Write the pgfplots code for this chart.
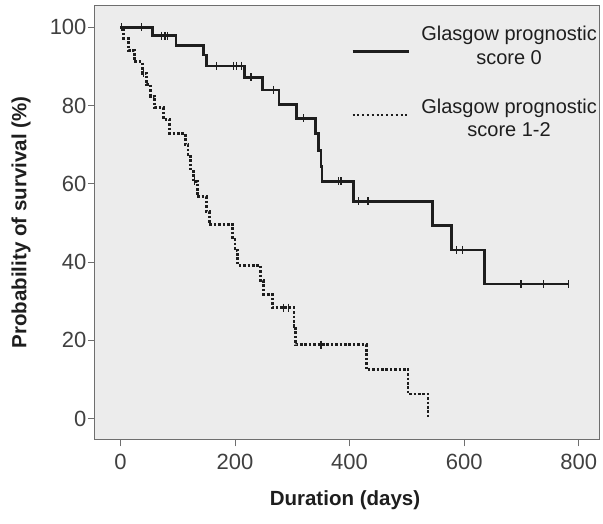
\documentclass[border=0pt]{standalone}
\usepackage{fontspec}
\setmainfont{Liberation Sans}
\usepackage{pgfplots}
\pgfplotsset{compat=1.18}
\definecolor{panel}{HTML}{ECECEC}
\definecolor{frame}{HTML}{6E6E6E}
\definecolor{ink}{HTML}{1E1E1E}
\begin{document}
\begin{tikzpicture}
\useasboundingbox (-95pt,-83.7pt) rectangle (508pt,439.3pt);
\begin{axis}[
  scale only axis, width=505pt, height=433.6pt,
  xmin=-44.3, xmax=837, ymin=-5.26, ymax=105.5,
  xtick={0,200,...,800}, ytick={0,20,...,100},
  tick align=outside, major tick length=7pt,
  xtick pos=bottom, ytick pos=left,
  axis line style={frame, line width=1pt},
  tick style={frame, line width=0.8pt},
  axis background/.style={fill=panel},
  ticklabel style={font=\fontsize{22}{26}\selectfont, text=ink!85},
  xticklabel style={yshift=-4pt},
  yticklabel style={xshift=2pt},
  /pgf/number format/assume math mode=true,
  xlabel={Duration (days)}, ylabel={Probability of survival (\%)},
  every axis x label/.style={at={(axis description cs:0.495,-0.1407)}, anchor=center,
    font=\fontsize{20.5}{24}\selectfont\bfseries, text=ink},
  every axis y label/.style={at={(axis description cs:-0.1465,0.5)}, anchor=center, rotate=90,
    font=\fontsize{20.5}{24}\selectfont\bfseries, text=ink},
]
% Glasgow prognostic score 0
\addplot[const plot, ink, line width=2.7pt] coordinates {
  (0,100) (56,97.8) (97,95.4) (145,92.9) (150,90.1) (216,87.2) (248,84.0)
  (277,80.3) (307,76.7) (340,72.9) (346,68.6) (350,64.4) (352,60.6)
  (407,55.5) (545,49.3) (578,43.1) (635,34.4) (782,34.4)
};
\addplot[only marks, mark=|, mark size=4pt, ink, mark options={line width=1.2pt}] coordinates {
  (2,100) (37,100) (72,97.8) (78,97.8) (82,97.8) (168,90.1) (198,90.1)
  (203,90.1) (212,90.1) (228,87.2) (267,84.0) (320,76.7) (380,60.6)
  (385,60.6) (415,55.5) (432,55.5) (587,43.1) (597,43.1) (699,34.4)
  (738,34.4) (782,34.4)
};
% Glasgow prognostic score 1-2
\addplot[const plot, ink, line width=2.8pt, dash pattern=on 2.6pt off 1.8pt] coordinates {
  (0,100) (6,97.1) (14,94.1) (24,91.2) (38,88.2) (46,85.3) (53,82.4)
  (60,79.4) (75,76.5) (86,72.9) (113,70.0) (118,66.9) (123,63.8)
  (127,60.6) (134,56.7) (150,53.0) (155,49.7) (196,46.3) (200,43.0)
  (205,39.2) (244,35.4) (250,31.8) (265,28.4) (303,23.6) (306,18.9)
  (429,12.6) (502,6.3) (537,0)
};
\addplot[only marks, mark=|, mark size=4pt, ink, mark options={line width=1.2pt}] coordinates {
  (2,100) (40,88.2) (130,60.6) (284,28.4) (293,28.4) (350,18.9)
};
% legend
\draw[ink, line width=2.6pt] (axis description cs:0.510,0.894) -- (axis description cs:0.622,0.894);
\draw[ink, line width=2.2pt, dash pattern=on 2pt off 2.8pt] (axis description cs:0.510,0.748) -- (axis description cs:0.622,0.748);
\node[align=center, font=\fontsize{20}{23.5}\selectfont, text=ink] at (axis description cs:0.820,0.908) {Glasgow prognostic\\score 0};
\node[align=center, font=\fontsize{20}{23.5}\selectfont, text=ink] at (axis description cs:0.820,0.741) {Glasgow prognostic\\score 1-2};
\end{axis}
\end{tikzpicture}
\end{document}
